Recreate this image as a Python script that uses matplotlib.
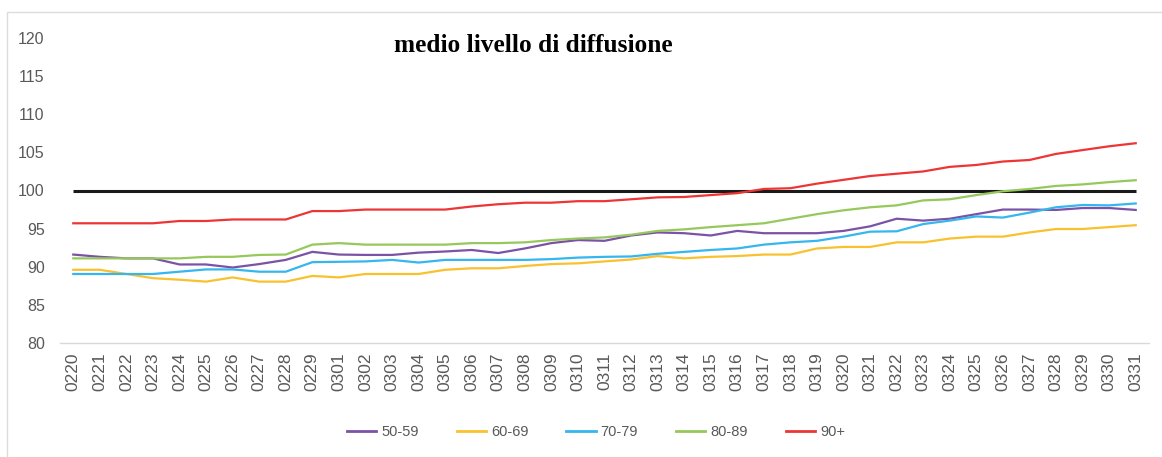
import matplotlib
matplotlib.use("Agg")
import matplotlib.pyplot as plt
from matplotlib.patches import Rectangle

dates = ["0220", "0221", "0222", "0223", "0224", "0225", "0226", "0227", "0228", "0229",
         "0301", "0302", "0303", "0304", "0305", "0306", "0307", "0308", "0309", "0310",
         "0311", "0312", "0313", "0314", "0315", "0316", "0317", "0318", "0319", "0320",
         "0321", "0322", "0323", "0324", "0325", "0326", "0327", "0328", "0329", "0330", "0331"]

s50_59 = [91.6, 91.3, 91.1, 91.1, 90.3, 90.3, 89.9, 90.35, 90.9, 91.95,
          91.6, 91.55, 91.55, 91.85, 92.0, 92.2, 91.8, 92.4, 93.1, 93.5,
          93.4, 94.1, 94.5, 94.4, 94.1, 94.7, 94.4, 94.4, 94.4, 94.7,
          95.3, 96.3, 96.05, 96.3, 96.9, 97.5, 97.5, 97.45, 97.7, 97.7, 97.45]

s60_69 = [89.6, 89.6, 89.05, 88.5, 88.3, 88.05, 88.6, 88.05, 88.05, 88.8,
          88.6, 89.05, 89.05, 89.05, 89.6, 89.8, 89.8, 90.1, 90.35, 90.45,
          90.7, 90.95, 91.4, 91.1, 91.3, 91.4, 91.6, 91.6, 92.4, 92.6,
          92.6, 93.2, 93.2, 93.7, 93.95, 93.95, 94.5, 94.95, 94.95, 95.2, 95.45]

s70_79 = [89.05, 89.05, 89.05, 89.05, 89.35, 89.65, 89.65, 89.35, 89.35, 90.6,
          90.65, 90.7, 90.9, 90.55, 90.9, 90.9, 90.9, 90.9, 91.0, 91.2,
          91.3, 91.35, 91.7, 91.95, 92.2, 92.4, 92.9, 93.2, 93.4, 93.95,
          94.6, 94.65, 95.6, 96.05, 96.6, 96.45, 97.1, 97.8, 98.1, 98.05, 98.3]

s80_89 = [91.1, 91.1, 91.1, 91.1, 91.1, 91.3, 91.3, 91.55, 91.6, 92.9,
          93.1, 92.9, 92.9, 92.9, 92.9, 93.1, 93.1, 93.2, 93.5, 93.7,
          93.85, 94.2, 94.7, 94.9, 95.2, 95.45, 95.7, 96.3, 96.9, 97.4,
          97.8, 98.05, 98.7, 98.85, 99.4, 99.9, 100.2, 100.6, 100.8, 101.1, 101.35]

s90p = [95.7, 95.7, 95.7, 95.7, 96.0, 96.0, 96.2, 96.2, 96.2, 97.3,
        97.3, 97.5, 97.5, 97.5, 97.5, 97.9, 98.2, 98.4, 98.4, 98.6,
        98.6, 98.85, 99.1, 99.15, 99.4, 99.65, 100.2, 100.3, 100.9, 101.4,
        101.9, 102.2, 102.5, 103.1, 103.35, 103.8, 104.0, 104.8, 105.3, 105.8, 106.2]

series_labels = ["50-59", "60-69", "70-79", "80-89", "90+"]
series_values = [s50_59, s60_69, s70_79, s80_89, s90p]
series_colors = ["#7B52A6", "#F9C12E", "#35B6EE", "#96C85C", "#EE3535"]
reference_level = 100
yticks = [80, 85, 90, 95, 100, 105, 110, 115, 120]
title = "medio livello di diffusione"

W, H = 1162, 457
fig = plt.figure(figsize=(W / 100, H / 100), dpi=100)
fig.patch.set_facecolor("white")

# outer frame
fig.patches.append(Rectangle((7 / W, -0.05), 1.2, (H - 12) / H + 0.05,
                             transform=fig.transFigure, fill=False,
                             edgecolor="#dcdcdc", linewidth=1.0))

ax = fig.add_axes([60 / W, (H - 343) / H, (1149 - 60) / W, (343 - 38) / H])
x = list(range(len(dates)))

ax.hlines(reference_level, x[0], x[-1], color="#1a1a1a", linewidth=2.2, zorder=2)
for vals, lab, col in zip(series_values, series_labels, series_colors):
    ax.plot(x, vals, color=col, linewidth=1.6, label=lab, zorder=3)

ax.set_xlim(-0.5, len(dates) - 0.5)
ax.set_ylim(80, 120)
ax.set_yticks(yticks)
ax.set_xticks(x)
ax.set_xticklabels(dates, rotation=90)
for s in ["top", "right", "left"]:
    ax.spines[s].set_visible(False)
ax.spines["bottom"].set_color("#d9d9d9")
ax.spines["bottom"].set_linewidth(1.0)
ax.tick_params(axis="both", length=0, colors="#595959")
ax.tick_params(axis="y", pad=11, labelsize=11.5)
ax.tick_params(axis="x", pad=7, labelsize=12.5)
for t in ax.get_xticklabels() + ax.get_yticklabels():
    t.set_fontfamily("Liberation Sans")

fig.text(533 / W, 1 - 46 / H, title, ha="center", va="center",
         fontsize=18.3, fontweight="bold", family="Liberation Serif", color="black")

leg = fig.legend(loc="center", bbox_to_anchor=(596 / W, 1 - 432 / H), ncol=5,
                 frameon=False, handlelength=2.0, handletextpad=0.35,
                 columnspacing=2.6, prop={"family": "Liberation Sans", "size": 10.5})
for t in leg.get_texts():
    t.set_color("#595959")
for l in leg.get_lines():
    l.set_linewidth(2.0)

fig.savefig("out.png", dpi=100, facecolor="white")
